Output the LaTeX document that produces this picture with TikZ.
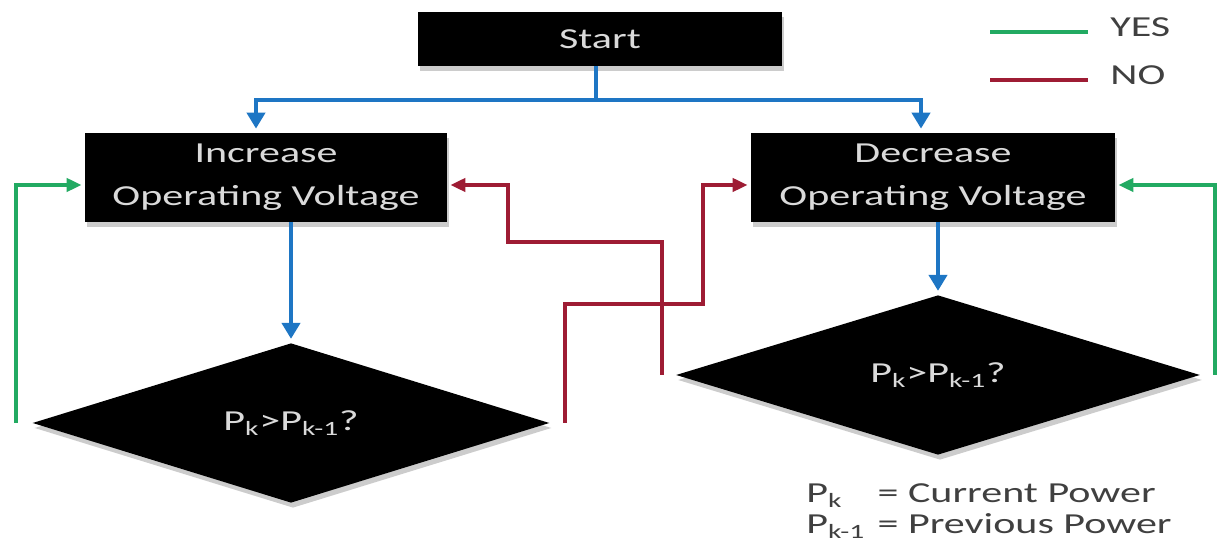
\documentclass[tikz,border=0pt]{standalone}
\usepackage{fontspec}
\setmainfont{Carlito}[FakeStretch=1.45]
\usepackage{tikz}
\usetikzlibrary{shapes.geometric}
\usetikzlibrary{arrows.meta}
\usetikzlibrary{shadows}
\definecolor{flowblue}{RGB}{30,118,196}
\definecolor{yesgreen}{RGB}{34,170,98}
\definecolor{nored}{RGB}{158,28,52}
\definecolor{boxtext}{RGB}{218,218,218}
\definecolor{keytext}{RGB}{64,64,64}
\newcommand{\flowfont}{\fontsize{16.5}{24.5}\selectfont}
\newcommand{\keyfont}{\fontsize{16.5}{17.5}\selectfont}

\begin{document}
\begin{tikzpicture}[x=0.02cm, y=-0.02cm,
        boxshadow/.style={drop shadow={shadow xshift=0.04cm, shadow yshift=-0.1cm, fill=black!20, opacity=1}},
        box/.style={rectangle, fill=black, text=boxtext, font=\flowfont, align=center, inner sep=0pt, boxshadow},
        decision/.style={diamond, fill=black, text=boxtext, font=\flowfont, inner sep=0pt, boxshadow},
        flow/.style={draw=flowblue, line width=0.08cm},
        flowarrow/.style={flow, -{Triangle[length=0.32cm,width=0.36cm]}, shorten >=0.08cm},
        back/.style={line width=0.075cm, -{Triangle[length=0.3cm,width=0.26cm]}, shorten >=0.06cm},
        yesline/.style={back, draw=yesgreen},
        noline/.style={back, draw=nored}]
        \useasboundingbox (0,0) rectangle (1225,546);
        \node [box, minimum width=7.28cm, minimum height=1.08cm] (start) at (600,39) {Start};
        \node [box, minimum width=7.24cm, minimum height=1.78cm] (inc) at (266,177.5) {Increase\\Operating Voltage};
        \node [box, minimum width=7.28cm, minimum height=1.78cm] (dec) at (933,177.5) {Decrease\\Operating Voltage};
        \node [decision, minimum width=10.34cm, minimum height=2.58cm] (testinc) at (291,423) {P\textsubscript{k}>P\textsubscript{k-1}?};
        \node [decision, minimum width=10.48cm, minimum height=2.88cm] (testdec) at (938,375) {P\textsubscript{k}>P\textsubscript{k-1}?};
        \coordinate (split) at (596,100);
        \draw [flow] (start.south -| split) -- (split);
        \draw [flowarrow] (split) -| ([xshift=-0.2cm]inc.north);
        \draw [flowarrow] (split) -| ([xshift=-0.24cm]dec.north);
        \draw [flowarrow] (inc.south -| testinc.north) -- (testinc.north);
        \draw [flowarrow] (dec.south -| testdec.north) -- (testdec.north);
        \coordinate (bendinc) at (508,242);
        \coordinate (benddec) at (703,304);
        \draw [yesline] ([xshift=-0.32cm]testinc.west) |- ([yshift=-0.15cm]inc.west);
        \draw [yesline] ([xshift=0.3cm]testdec.east) |- ([yshift=-0.15cm]dec.east);
        \draw [noline] ([xshift=-0.28cm]testdec.west) |- (bendinc) |- ([yshift=-0.15cm]inc.east);
        \draw [noline] ([xshift=0.3cm]testinc.east) |- (benddec) |- ([yshift=-0.15cm]dec.west);
        \foreach \lab/\col/\yy in {YES/yesgreen/32, NO/nored/80} {
            \coordinate (l\lab) at (990,\yy);
            \coordinate (r\lab) at (1088,\yy);
            \draw [draw=\col, line width=0.07cm] (l\lab) -- (r\lab);
            \node [anchor=west, font=\flowfont, text=keytext, inner sep=0pt] (leg\lab) at (1110,\yy-5) {\lab};
        }
        \node [anchor=west, font=\keyfont, text=keytext, inner sep=0pt] (key) at (806,512)
            {\begin{tabular}{@{}l@{\hspace{0.25cm}}l@{}}
                P\textsubscript{k} & = Current Power\\
                P\textsubscript{k-1} & = Previous Power
            \end{tabular}};
    \end{tikzpicture}
\end{document}
